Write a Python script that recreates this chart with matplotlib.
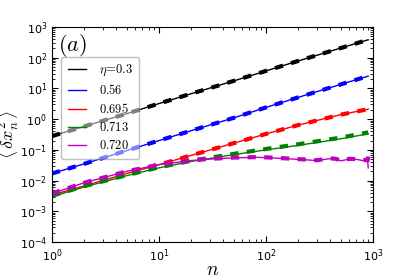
import matplotlib
matplotlib.use('Agg')
import matplotlib.pyplot as plt
import numpy as np

plt.rcParams['mathtext.fontset'] = 'cm'
plt.rcParams['font.size'] = 8

# simulation (solid) and theory (dashed) curves
n = [1, 2, 5, 10, 20, 50, 100, 200, 500, 900]
eta03 = [0.28, 0.58, 1.5, 3.2, 6.7, 17.5, 37, 78, 205, 380]
eta056 = [0.017, 0.035, 0.095, 0.2, 0.42, 1.1, 2.4, 5.1, 13.5, 25]
eta0695 = [0.0034, 0.0067, 0.017, 0.033, 0.066, 0.165, 0.33, 0.64, 1.4, 2.1]
eta0713 = [0.003, 0.0062, 0.0145, 0.026, 0.042, 0.07, 0.1, 0.14, 0.23, 0.33]
eta0713_th = [0.0032, 0.0066, 0.015, 0.027, 0.044, 0.074, 0.107, 0.152, 0.25, 0.37]

n_m = [1, 2, 5, 10, 20, 30, 50, 80, 100, 150, 200, 300, 400, 450, 500,
       600, 700, 800, 860, 890, 900]
eta072 = [0.0038, 0.0085, 0.02, 0.033, 0.045, 0.05, 0.055, 0.057, 0.056,
          0.052, 0.049, 0.045, 0.052, 0.05, 0.044, 0.05, 0.049, 0.045,
          0.047, 0.046, 0.026]
eta072_th = [0.0038, 0.0085, 0.02, 0.033, 0.046, 0.051, 0.056, 0.058, 0.057,
             0.053, 0.05, 0.046, 0.053, 0.051, 0.045, 0.051, 0.05, 0.046,
             0.047, 0.045, 0.07]

labels = [r'$\eta\!=\!0.3$', r'$0.56$', r'$0.695$', r'$0.713$', r'$0.720$']

fig = plt.figure(figsize=(4.15, 2.77), dpi=100)
ax = fig.add_axes([0.125, 0.126, 0.774, 0.777])

ax.plot(n, eta03, color='k', lw=1, label=labels[0])
ax.plot(n, eta056, color='b', lw=1, label=labels[1])
ax.plot(n, eta0695, color='r', lw=1, label=labels[2])
ax.plot(n, eta0713, color='g', lw=1, label=labels[3])
ax.plot(n_m, eta072, color='m', lw=1, label=labels[4])

dash = dict(lw=3, ls=(0, (2, 2)))
ax.plot(n, eta03, color='k', **dash)
ax.plot(n, eta056, color='b', **dash)
ax.plot(n, eta0695, color='r', **dash)
ax.plot(n, eta0713_th, color='g', **dash)
ax.plot(n_m, eta072_th, color='m', **dash)

ax.set_xscale('log')
ax.set_yscale('log')
ax.set_xlim(1, 1000)
ax.set_ylim(1e-4, 1e3)
ax.tick_params(which='both', direction='in', top=True, right=True)
ax.tick_params(which='major', length=4)
ax.tick_params(which='minor', length=2)

ax.set_xlabel(r'$n$', fontsize=14)
ax.xaxis.set_label_coords(0.5, -0.085)
ax.set_ylabel(r'$\left\langle\,\delta x_n^2\,\right\rangle$', fontsize=13)
ax.yaxis.set_label_coords(-0.1, 0.5)
ax.text(0.018, 0.975, r'$(a)$', transform=ax.transAxes, fontsize=16,
        va='top', ha='left')

leg = ax.legend(loc='upper left', bbox_to_anchor=(0.01, 0.89), fontsize=9,
                framealpha=0.5, handlelength=1.5, labelspacing=0.4,
                handletextpad=1.0, borderpad=0.5, fancybox=True)
leg.get_frame().set_edgecolor('0.5')

fig.savefig('out.png', dpi=100)
